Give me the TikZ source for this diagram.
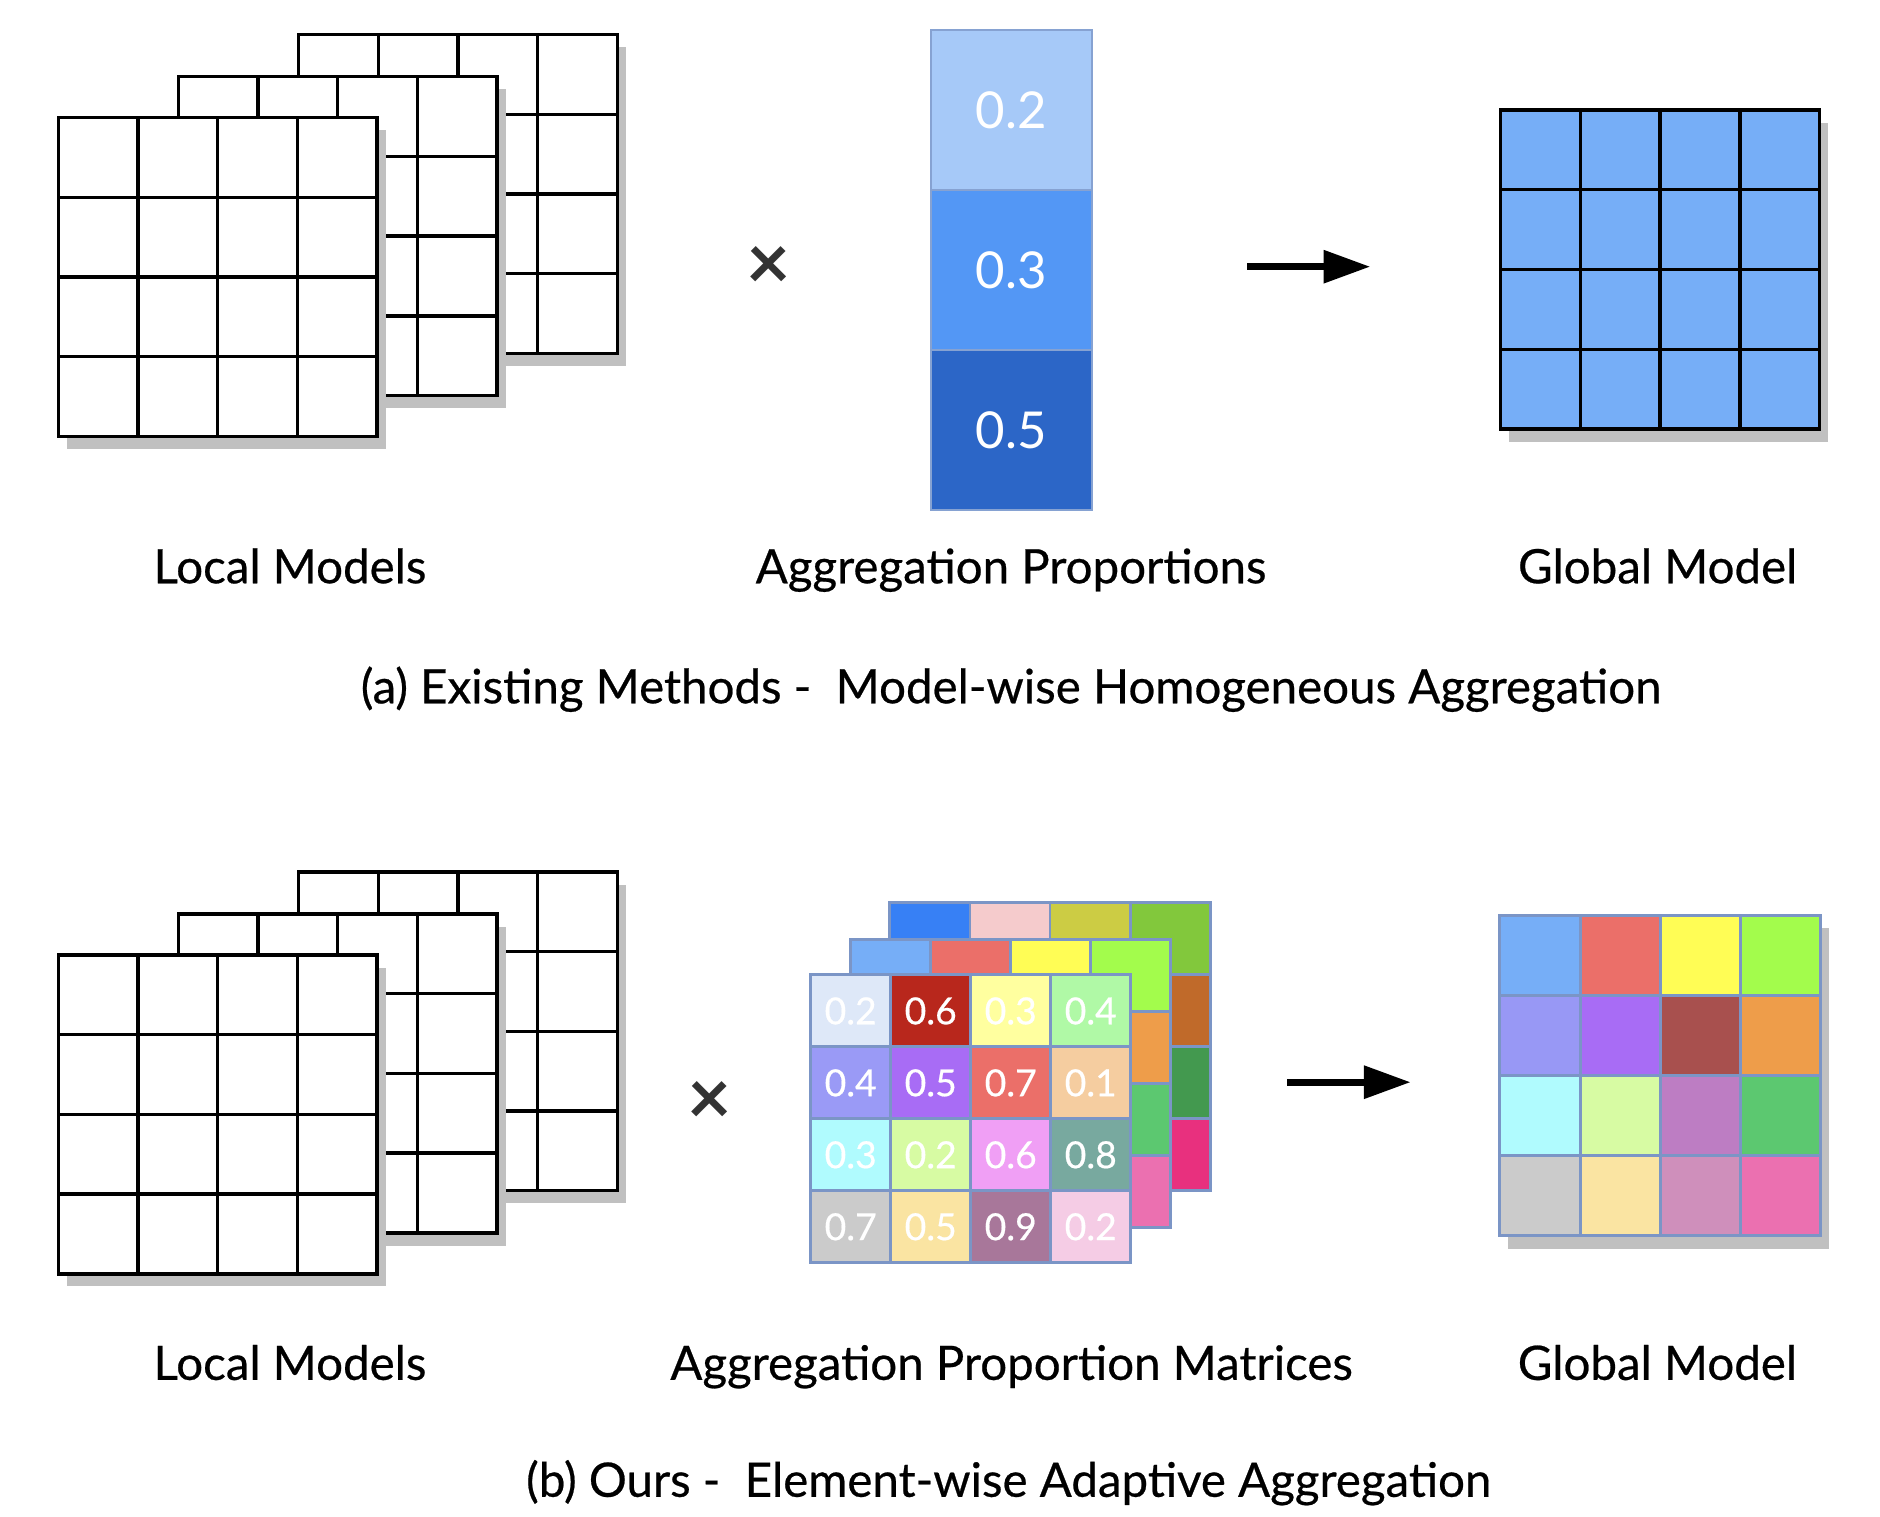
\documentclass[tikz,border=0pt]{standalone}
\usepackage{fontspec}
\setmainfont{Lato}
\newfontfamily\lblfont{Lato}[FakeBold=0.5]
\usetikzlibrary{arrows.meta}
\definecolor{shadegray}{HTML}{C0C0C0}
\definecolor{timesgray}{HTML}{333333}
\definecolor{propA}{HTML}{A6C9F8}
\definecolor{propB}{HTML}{5397F5}
\definecolor{propC}{HTML}{2C66C7}
\definecolor{propline}{HTML}{86A2D2}
\definecolor{cellline}{HTML}{7B95C6}
\definecolor{globblue}{HTML}{76AEF7}
\definecolor{gA}{HTML}{76AEF7}\definecolor{gB}{HTML}{EB6F69}\definecolor{gC}{HTML}{FFFD55}\definecolor{gD}{HTML}{A3FC4C}
\definecolor{gE}{HTML}{9898F5}\definecolor{gF}{HTML}{A86CF5}\definecolor{gG}{HTML}{A8504E}\definecolor{gH}{HTML}{EE9D4A}
\definecolor{gI}{HTML}{B0FBFE}\definecolor{gJ}{HTML}{D7FBA3}\definecolor{gK}{HTML}{BD7DC3}\definecolor{gL}{HTML}{5CC870}
\definecolor{gM}{HTML}{CBCBCB}\definecolor{gN}{HTML}{FAE4A2}\definecolor{gO}{HTML}{CF8FBB}\definecolor{gP}{HTML}{EB70B0}
\definecolor{fA}{HTML}{DEE8F8}\definecolor{fB}{HTML}{B8271C}\definecolor{fC}{HTML}{FFFF9F}\definecolor{fD}{HTML}{B0F9A6}
\definecolor{fE}{HTML}{9A9AF6}\definecolor{fF}{HTML}{A86CF5}\definecolor{fG}{HTML}{EB6F69}\definecolor{fH}{HTML}{F5CDA0}
\definecolor{fI}{HTML}{B0FBFE}\definecolor{fJ}{HTML}{D7FBA3}\definecolor{fK}{HTML}{F09FF5}\definecolor{fL}{HTML}{78A99F}
\definecolor{fM}{HTML}{CBCBCB}\definecolor{fN}{HTML}{FAE4A2}\definecolor{fO}{HTML}{A8779A}\definecolor{fP}{HTML}{F5CCE5}
\definecolor{bA}{HTML}{3780F5}\definecolor{bB}{HTML}{F5CBCC}\definecolor{bC}{HTML}{CCCC44}\definecolor{bD}{HTML}{82C83C}
\definecolor{bH}{HTML}{C06A2A}\definecolor{bL}{HTML}{43994F}\definecolor{bP}{HTML}{E8307E}
\begin{document}
\begin{tikzpicture}[x=0.01cm,y=0.01cm,
    gridline/.style={line width=0.8pt,black},
    shade/.style={fill=shadegray},
    mcell/.style={draw=cellline,line width=0.7pt,minimum width=0.664cm,minimum height=0.597cm,inner sep=0pt,outer sep=0pt},
    gcell/.style={draw=cellline,line width=0.7pt,minimum width=0.666cm,minimum height=0.665cm,inner sep=0pt,outer sep=0pt},
    pcell/.style={draw=propline,line width=0.5pt,minimum width=1.336cm,minimum height=1.328cm,inner sep=0pt,outer sep=0pt,text=white,font=\fontsize{12}{14}\selectfont},
    mnum/.style={text=white,font=\lblfont\fontsize{8.8}{10}\selectfont},
    lbl/.style={anchor=base,font=\lblfont\fontsize{11.2}{13}\selectfont},
    times/.style={text=timesgray,font=\bfseries\fontsize{18}{18}\selectfont},
    arr/.style={line width=1.6pt,-{Triangle[length=11pt,width=7.5pt]}}]
    \useasboundingbox (0,0) rectangle (1560,-1258);
    \foreach \oy in {0,694.8} {
        \foreach \dx/\dy in {199.3/69,99.6/34,0/0} {
            \fill[shade] (55.4+\dx,-108.2+\dy-\oy) rectangle ++(264.5,-264.5);
            \draw[gridline,fill=white] (48.4+\dx,-97.7+\dy-\oy) rectangle ++(264.5,-264.5);
            \foreach \k in {1,2,3} {
                \draw[gridline] (48.4+\dx+\k*66.125,-97.7+\dy-\oy) -- ++(0,-264.5);
                \draw[gridline] (48.4+\dx,-97.7+\dy-\oy-\k*66.125) -- ++(264.5,0);
            }
        }
    }
    \node[times] (timesA) at (638,-222) {×};
    \node[pcell,fill=propA] (pc1) at (839.1,-91.3) {0.2};
    \node[pcell,fill=propB] (pc2) at (839.1,-224.1) {0.3};
    \node[pcell,fill=propC] (pc3) at (839.1,-356.9) {0.5};
    \coordinate (arrA0) at (1035,-221.3);
    \coordinate (arrA1) at (1137,-221.3);
    \draw[arr] (arrA0) -- (arrA1);
    \fill[shade] (1252,-101.8) rectangle ++(265,-264.7);
    \draw[gridline,fill=globblue] (1245,-91.3) rectangle ++(265,-264.7);
    \foreach \k in {1,2,3} {
        \draw[gridline] (1245+\k*66.25,-91.3) -- ++(0,-264.7);
        \draw[gridline] (1245,-91.3-\k*66.175) -- ++(265,0);
    }
    \node[lbl] (lblLocalA) at (240.6,-484) {Local Models};
    \node[lbl] (lblPropA) at (839,-484) {Aggregation Proportions};
    \node[lbl] (lblGlobalA) at (1375.5,-484) {Global Model};
    \node[lbl] (capA) at (839,-583.6) {(a) Existing Methods -\ \ Model-wise Homogeneous Aggregation};
    \node[times] (timesB) at (589,-915) {×};
    \foreach \c [count=\k from 0] in {bA,bB,bC,bD,bA,bB,bC,bH,bA,bB,bC,bL,bA,bB,bC,bP} {
        \pgfmathtruncatemacro\cc{mod(\k,4)}
        \pgfmathtruncatemacro\rr{\k/4}
        \node[mcell,fill=\c] (bm\k) at (738.5+33.2+\cc*66.4,-749-29.85-\rr*59.7) {};
    }
    \foreach \c [count=\k from 0] in {gA,gB,gC,gD,gE,gF,gG,gH,gI,gJ,gK,gL,gM,gN,gO,gP} {
        \pgfmathtruncatemacro\cc{mod(\k,4)}
        \pgfmathtruncatemacro\rr{\k/4}
        \node[mcell,fill=\c] (mm\k) at (705.9+33.2+\cc*66.4,-779.4-29.85-\rr*59.7) {};
    }
    \foreach \c/\v [count=\k from 0] in {fA/0.2,fB/0.6,fC/0.3,fD/0.4,fE/0.4,fF/0.5,fG/0.7,fH/0.1,fI/0.3,fJ/0.2,fK/0.6,fL/0.8,fM/0.7,fN/0.5,fO/0.9,fP/0.2} {
        \pgfmathtruncatemacro\cc{mod(\k,4)}
        \pgfmathtruncatemacro\rr{\k/4}
        \node[mcell,mnum,fill=\c] (fm\k) at (672.7+33.2+\cc*66.4,-809-29.85-\rr*59.7) {\v};
    }
    \coordinate (arrB0) at (1068,-898);
    \coordinate (arrB1) at (1170.5,-898);
    \draw[arr] (arrB0) -- (arrB1);
    \fill[shade] (1251.5,-770) rectangle ++(266.5,-266);
    \foreach \c [count=\k from 0] in {gA,gB,gC,gD,gE,gF,gG,gH,gI,gJ,gK,gL,gM,gN,gO,gP} {
        \pgfmathtruncatemacro\cc{mod(\k,4)}
        \pgfmathtruncatemacro\rr{\k/4}
        \node[gcell,fill=\c] (gm\k) at (1244.5+33.3+\cc*66.6,-759.5-33.25-\rr*66.5) {};
    }
    \node[lbl] (lblLocalB) at (240.6,-1145) {Local Models};
    \node[lbl] (lblPropB) at (839.4,-1145) {Aggregation Proportion Matrices};
    \node[lbl] (lblGlobalB) at (1375.3,-1145) {Global Model};
    \node[lbl] (capB) at (837,-1242) {(b) Ours -\ \ Element-wise Adaptive Aggregation};
\end{tikzpicture}
\end{document}
